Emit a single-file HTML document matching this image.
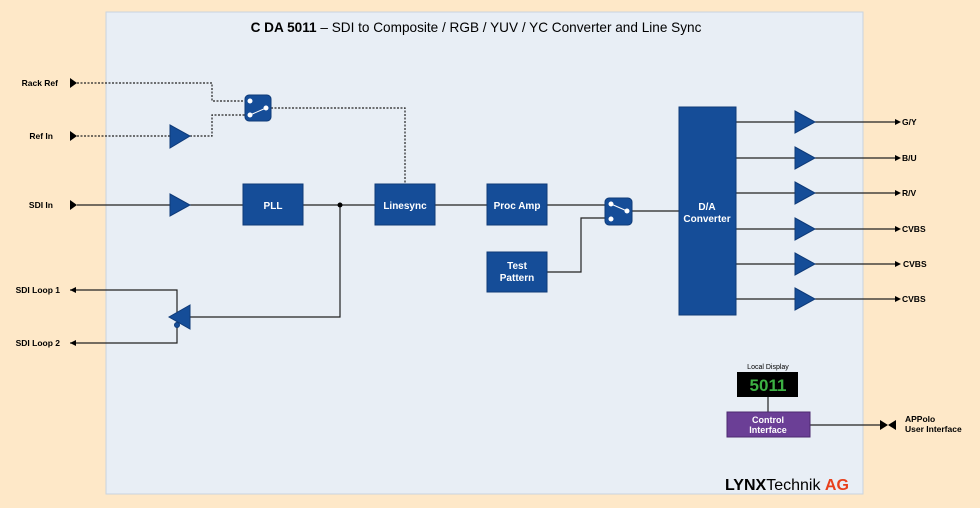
<!DOCTYPE html>
<html><head><meta charset="utf-8"><style>
body{margin:0;background:#fee8c8;}
svg{display:block;font-family:"Liberation Sans",sans-serif;}
</style></head><body>
<svg width="980" height="508" viewBox="0 0 980 508">
<rect x="0" y="0" width="980" height="508" fill="#fee8c8"/>
<rect x="106" y="12" width="757" height="482" fill="#e8eef5" stroke="#c9d3de" stroke-width="1"/>
<text x="476" y="32" text-anchor="middle" font-size="13.6" fill="#000"><tspan font-weight="bold">C DA 5011</tspan> – SDI to Composite / RGB / YUV / YC Converter and Line Sync</text>
<g stroke="#222" stroke-width="1.2" fill="none">
<path d="M77 83H212V101H245" stroke-dasharray="2,1.5"/>
<path d="M77 136H170M190 136H212V115H245" stroke-dasharray="2,1.5"/>
<path d="M271 108H405V184" stroke-dasharray="2,1.5"/>
<path d="M77 205H170M190 205H243M303 205H375M435 205H487M547 205H605"/>
<path d="M340 205V317H190"/>
<path d="M70 290H177V343H70"/>
<path d="M547 272H581V218H605"/>
<path d="M632 211H679"/>
<path d="M736 122H795M815 122H895M736 158H795M815 158H895M736 193H795M815 193H895M736 229H795M815 229H895M736 264H795M815 264H895M736 299H795M815 299H895"/>
<path d="M768 397V412M810 425H880"/>
</g>
<g fill="#000">
<polygon points="70,78 77,83 70,88"/><polygon points="70,131 77,136 70,141"/><polygon points="70,200 77,205 70,210"/>
<polygon points="76,287 70,290 76,293"/><polygon points="76,340 70,343 76,346"/>
<circle cx="340" cy="205" r="2.5"/>
<polygon points="895,119 901,122 895,125"/><polygon points="895,155 901,158 895,161"/><polygon points="895,190 901,193 895,196"/><polygon points="895,226 901,229 895,232"/><polygon points="895,261 901,264 895,267"/><polygon points="895,296 901,299 895,302"/>
<polygon points="880,420 888,425 880,430"/><polygon points="896,420 888,425 896,430"/>
</g>
<g fill="#154d98" stroke="#0e3a78" stroke-width="1">
<polygon points="170,125 190,136 170,148"/>
<polygon points="170,194 190,205 170,216"/>
<polygon points="190,305 169,317 190,329"/>
<polygon points="795,111 815,122 795,133"/><polygon points="795,147 815,158 795,169"/><polygon points="795,182 815,193 795,204"/><polygon points="795,218 815,229 795,240"/><polygon points="795,253 815,264 795,275"/><polygon points="795,288 815,299 795,310"/>
<rect x="243" y="184" width="60" height="41"/>
<rect x="375" y="184" width="60" height="41"/>
<rect x="487" y="184" width="60" height="41"/>
<rect x="487" y="252" width="60" height="40"/>
<rect x="679" y="107" width="57" height="208"/>
<rect x="245" y="95" width="26" height="26" rx="4"/>
<rect x="605" y="198" width="27" height="27" rx="4"/>
</g>
<circle cx="177" cy="325" r="2.5" fill="#154d98" stroke="#0e3a78"/>
<g fill="#fff" stroke="#fff" stroke-width="1">
<circle cx="250" cy="101" r="2"/><circle cx="250" cy="115" r="2"/><circle cx="266" cy="108" r="2"/><line x1="250" y1="115" x2="266" y2="108"/>
<circle cx="611" cy="204" r="2"/><circle cx="611" cy="219" r="2"/><circle cx="627" cy="211" r="2"/><line x1="611" y1="204" x2="627" y2="211"/>
</g>
<text x="768" y="369" font-size="7" text-anchor="middle" fill="#000">Local Display</text>
<rect x="737" y="372" width="61" height="25" fill="#000"/>
<text x="768" y="391" font-size="17" text-anchor="middle" fill="#3cb043" font-weight="bold">5011</text>
<rect x="727" y="412" width="83" height="25" fill="#6b3f96" stroke="#4c2a70"/>
<g fill="#fff" font-size="10" font-weight="bold" text-anchor="middle">
<text x="273" y="209">PLL</text>
<text x="405" y="209">Linesync</text>
<text x="517" y="209">Proc Amp</text>
<text x="517" y="269">Test</text><text x="517" y="281">Pattern</text>
<text x="707" y="210">D/A</text><text x="707" y="222">Converter</text>
<text x="768" y="423" font-size="9">Control</text><text x="768" y="433" font-size="9">Interface</text>
</g>
<g font-size="8.5" font-weight="bold" fill="#000">
<text x="58" y="86" text-anchor="end">Rack Ref</text>
<text x="53" y="139" text-anchor="end">Ref In</text>
<text x="53" y="208" text-anchor="end">SDI In</text>
<text x="60" y="293" text-anchor="end">SDI Loop 1</text>
<text x="60" y="346" text-anchor="end">SDI Loop 2</text>
<text x="902" y="125">G/Y</text><text x="902" y="161">B/U</text><text x="902" y="196">R/V</text>
<text x="902" y="232">CVBS</text><text x="903" y="267">CVBS</text><text x="902" y="302">CVBS</text>
<text x="905" y="422">APPolo</text><text x="905" y="432">User Interface</text>
</g>
<text x="725" y="490" font-size="16" fill="#000"><tspan font-weight="bold">LYNX</tspan>Technik <tspan font-weight="bold" fill="#e8401c">AG</tspan></text>
</svg>
</body></html>
